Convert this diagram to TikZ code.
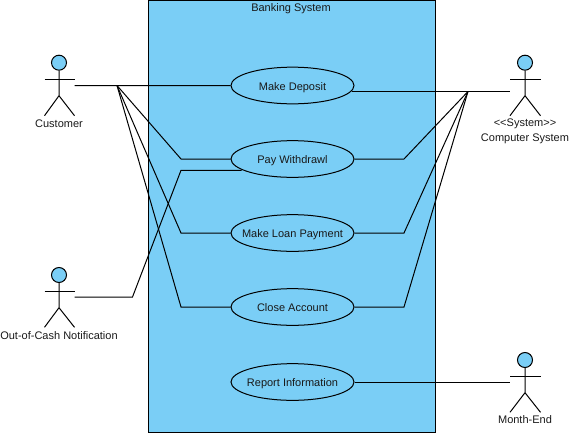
\documentclass[tikz,border=0pt]{standalone}
\usepackage{fontspec}
\setmainfont[Ligatures=NoCommon]{Liberation Sans}
\usetikzlibrary{positioning,shapes.geometric}
\definecolor{ucblue}{RGB}{122,206,246}
\newcommand{\ucname}[1]{\raisebox{-3.5pt}[0pt][0pt]{\makebox[0pt]{#1}}}
\begin{document}
\begin{tikzpicture}[x=0.75pt,y=-0.75pt,line width=0.75pt,
  lbl/.style={font=\fontsize{8.25}{11.2}\selectfont,align=center,inner sep=0pt,text=black!90},
  usecase/.style={draw=black,ellipse,fill=ucblue,minimum width=92.25pt,minimum height=27.5pt,inner sep=0pt,lbl},
  head/.style={draw=black,circle,fill=ucblue,minimum size=11.25pt,inner sep=0pt},
  link/.style={draw=black,line width=0.75pt}]
\useasboundingbox (0,0) rectangle (569,433);
\node[draw=black,fill=ucblue,minimum width=215.25pt,minimum height=324pt,inner sep=0pt] (sys) at (291.5,216) {};
\node[lbl] (systitle) at (291,9) {Banking System};
\node[usecase] (deposit) at (292.5,85.5) {\ucname{Make Deposit}};
\node[usecase] (withdraw) at (292.5,159) {\ucname{Pay Withdrawl}};
\node[usecase] (loan) at (292.5,233) {\ucname{Make Loan Payment}};
\node[usecase] (close) at (292.5,307) {\ucname{Close Account}};
\node[usecase] (report) at (292.5,382) {\ucname{Report Information}};
% actors
\begin{scope}[shift={(59,62.7)}]
\node[head] (c0) at (0,0) {};
\draw (-14.5,16.6)--(15.5,16.6);
\draw (c0.south)--(0,33)--(-14.5,53) (0,33)--(15.5,53);
\coordinate (c0hand) at (15.5,22.8);
\node[lbl] (c0name) at (0,61) {Customer};
\end{scope}
\begin{scope}[shift={(59,275)}]
\node[head] (c1) at (0,0) {};
\draw (-14.5,16.3)--(15.5,16.3);
\draw (c1.south)--(0,32.7)--(-14.5,52.3) (0,32.7)--(15.5,52.3);
\coordinate (c1hand) at (15.5,22);
\node[lbl] (c1name) at (0,60.5) {Out-of-Cash Notification};
\end{scope}
\begin{scope}[shift={(525,62.7)}]
\node[head] (c2) at (0,0) {};
\draw (-15,16.6)--(15.5,16.6);
\draw (c2.south)--(0,33)--(-15,53) (0,33)--(15.5,53);
\coordinate (c2hand) at (-15,28.9);
\node[lbl] (c2name) at (0,69) {{<}{<}System{>}{>}\\Computer System};
\end{scope}
\begin{scope}[shift={(525,360)}]
\node[head] (c3) at (0,0) {};
\draw (-15,16.3)--(15.5,16.3);
\draw (c3.south)--(0,32.7)--(-15,52.3) (0,32.7)--(15.5,52.3);
\coordinate (c3hand) at (-15,22);
\node[lbl] (c3name) at (0,60) {Month-End};
\end{scope}
% bend points
\coordinate (fanl) at (117,85.5);
\coordinate (fanr) at (468,91.5);
\coordinate (bl1) at (181,159);
\coordinate (bl2) at (181,233);
\coordinate (bl3) at (181,307);
\coordinate (br1) at (404,159);
\coordinate (br2) at (404,233);
\coordinate (br3) at (404,307);
\coordinate (ob1) at (132.5,297);
\coordinate (ob2) at (181,170.3);
\draw[link] (c0hand)--(deposit.west);
\draw[link] (fanl)--(bl1)--(withdraw.west);
\draw[link] (fanl)--(bl2)--(loan.west);
\draw[link] (fanl)--(bl3)--(close.west);
\draw[link] (c1hand)--(ob1)--(ob2)--(withdraw.192.7|-ob2);
\draw[link] (deposit.-5.9|-c2hand)--(c2hand);
\draw[link] (withdraw.east)--(br1)--(fanr);
\draw[link] (loan.east)--(br2)--(fanr);
\draw[link] (close.east)--(br3)--(fanr);
\draw[link] (report.east)--(c3hand);
\end{tikzpicture}
\end{document}
